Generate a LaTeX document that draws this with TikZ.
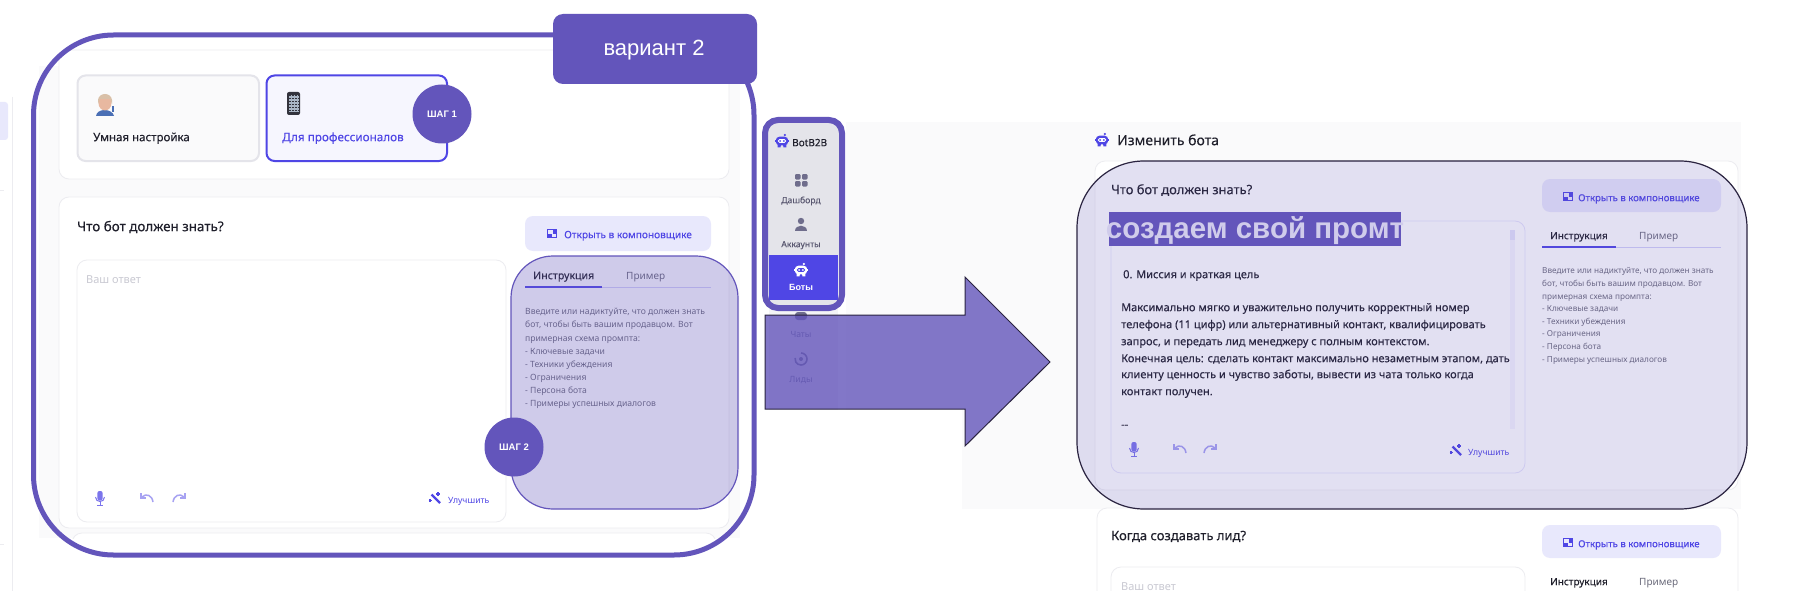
\documentclass[tikz,border=0pt]{standalone}
\usepackage{fontspec}
\setmainfont{Noto Sans}
\newfontfamily\medfont[FakeBold=0.2]{Noto Sans}
\newfontfamily\tagfont{Liberation Sans}
\definecolor{violet}{HTML}{6355BB}
\definecolor{indigo}{HTML}{4F46E5}
\definecolor{softbtn}{HTML}{E8E8FC}
\definecolor{ink}{HTML}{1F1F2B}
\definecolor{hint}{HTML}{6B6B7B}
\definecolor{ghost}{HTML}{C9C9D2}
\definecolor{hair}{HTML}{ECECF0}
\definecolor{page}{HTML}{FAFAFB}
\definecolor{navgray}{HTML}{6F6D8C}
\definecolor{overall}{HTML}{4A6FB5}
\definecolor{skin}{HTML}{E8B8A0}
\definecolor{hairtone}{HTML}{D9C0A8}
\definecolor{phonebody}{HTML}{33333D}
\definecolor{phonescreen}{HTML}{A9B5C5}
\definecolor{navbg}{HTML}{E4E4EA}
\definecolor{navlow}{HTML}{F4F4F6}
\definecolor{outline}{HTML}{2A2340}
\tikzset{
  lbl/.style={inner sep=0pt,anchor=mid west,yshift=-2.5pt,font=\medfont\fontsize{#1}{#1}\selectfont,text=ink},
  lbl/.default=11,
  thin lbl/.style={inner sep=0pt,anchor=mid west,yshift=-2.5pt,font=\fontsize{#1}{#1}\selectfont,text=hint},
  card/.style={draw=hair,fill=white,line width=.8pt,rounded corners=10pt},
  softbutton/.style={fill=softbtn,rounded corners=8pt},
  stepdot/.style={circle,fill=violet,minimum size=59pt,inner sep=0pt,text=white,font=\tagfont\fontsize{9.5}{9.5}\selectfont\bfseries},
}
% ---- small icons, centred on the given point ----
\newcommand{\boticon}[5]{\begin{scope}[shift={(#1,#2)},scale=#3]
  \fill[#4,rounded corners=3.5pt] (-6.5,-4.5) rectangle (6.5,4.5);
  \fill[#4] (-7.6,-1.5) rectangle (7.6,1.5);
  \fill[#4] (-4.5,3) -- (-1,3) -- (-1.5,6.8) -- (-4.5,6.8) -- cycle;
  \fill[#4] (1,3) -- (4.5,3) -- (4.5,6.8) -- (1.5,6.8) -- cycle;
  \fill[#4] (3,-6.3) circle (1.3);
  \fill[#5,rounded corners=1.5pt] (-4.3,-2) rectangle (4.3,2);
  \fill[#4] (-2,0) circle (1); \fill[#4] (2,0) circle (1);
\end{scope}}
\newcommand{\layouticon}[3]{\begin{scope}[shift={(#1,#2)}]
  \draw[#3,line width=1pt] (-4.5,-4) rectangle (4.5,4);
  \fill[#3] (.5,-4) rectangle (4.5,1);
  \fill[#3] (-4.5,1) rectangle (-.5,4);
\end{scope}}
\newcommand{\micicon}[3]{\begin{scope}[shift={(#1,#2)}]
  \fill[#3,rounded corners=2pt] (-2.6,-7) rectangle (2.6,2.5);
  \draw[#3,line width=1pt] (-4.5,-1) .. controls (-4.5,5) and (4.5,5) .. (4.5,-1);
  \draw[#3,line width=1pt] (0,4) -- (0,7) (-3,7) -- (3,7);
\end{scope}}
\newcommand{\undoicon}[4]{\begin{scope}[shift={(#1,#2)},xscale=#3]
  \draw[#4,line width=1.5pt] (-5,-1) .. controls (-1,-5) and (5,-3) .. (6,4);
  \draw[#4,line width=1.5pt] (-6,-5) -- (-6,0) -- (-1,0);
\end{scope}}
\newcommand{\wandicon}[3]{\begin{scope}[shift={(#1,#2)}]
  \draw[#3,line width=2.4pt] (-3.5,-3.5) -- (5,5);
  \draw[#3,line width=1.4pt] (3,-6) -- (3,-2) (1,-4) -- (5,-4) (-5,1) -- (-5,4) (-6.5,2.5) -- (-3.5,2.5);
\end{scope}}
\begin{document}
\begin{tikzpicture}[x=1pt,y=-1pt]
\useasboundingbox (0,0) rectangle (1793,591);
\fill[white] (0,0) rectangle (1793,591);
% ---- page backgrounds ----
\fill[page] (39,66) rectangle (740,538);
\fill[page] (846,122) rectangle (1741,410);
\fill[page] (962,122) rectangle (1741,509);
% ---- cut-off sidebar at the far left ----
\draw[hair,line width=.8pt] (12.5,97) -- (12.5,591);
\begin{scope}
\clip (0,0) rectangle (1793,591);
\fill[softbtn,rounded corners=3pt] (-6,102) rectangle (8,140);
\end{scope}
\draw[hair,line width=.8pt] (0,190) -- (4,190) (0,544) -- (4,544);
% ---- left screen ----
\draw[card] (59,50) rectangle (729,179);
\draw[card] (59,197) rectangle (729,528);
\begin{scope}
\clip (39,520) rectangle (740,538);
\draw[card] (72,533) rectangle (716,580);
\end{scope}
\draw[fill=page,draw=navbg,line width=2pt,rounded corners=8pt] (77.5,75.5) rectangle (259,161);
\draw[fill=indigo!5,draw=indigo,line width=2pt,rounded corners=8pt] (266.5,75.5) rectangle (447,161);
% mechanic emoji
\fill[overall] (96,116) .. controls (97,108) and (112,108) .. (114,116) -- cycle;
\fill[skin] (105,103) ellipse (6.5 and 7.5);
\fill[hairtone] (98,100) .. controls (99,92) and (111,92) .. (112,100) -- (112,104) -- (110,99) -- (100,99) -- (98,104) -- cycle;
\fill[overall] (112,106) rectangle (114,112);
% phone emoji
\fill[phonebody,rounded corners=2pt] (287,92) rectangle (300,115);
\fill[phonescreen] (288.5,95) rectangle (298.5,112);
\foreach \gy in {96,99,...,111}{\draw[phonebody,line width=1pt,dash pattern=on 1.5pt off 1.5pt] (289,\gy) -- (298.5,\gy);}
\node[lbl=11.5] (smartlabel) at (93,136) {Умная настройка};
\node[lbl=11.7,text=indigo] (prolabel) at (282,136) {Для профессионалов};
\node[lbl=13.4] (lefttitle) at (77,226) {Что бот должен знать?};
\fill[softbutton] (525,216) rectangle (711,251);
\layouticon{552}{233}{indigo}
\node[lbl=10.1,text=indigo] (leftopen) at (564,233) {Открыть в компоновщике};
\draw[card,draw=hair] (77,260) rectangle (506,522);
\node[thin lbl=11,text=ghost] (leftanswer) at (86,278) {Ваш ответ};
\micicon{100}{498}{indigo!75}
\undoicon{147}{498}{1}{indigo!50}
\undoicon{179}{498}{-1}{indigo!50}
\wandicon{435}{498}{indigo}
\node[thin lbl=8.6,text=indigo] (leftimprove) at (448,498) {Улучшить};
\node[lbl=10.6] (lefttab) at (533,274) {Инструкция};
\node[thin lbl=10,text=hint] (lefttabb) at (626,274) {Пример};
\draw[line width=.8pt,indigo!25] (602,287) -- (711,287);
\draw[line width=2pt,indigo] (525,287) -- (602,287);
\foreach \nm/\ty/\tx in {la/309/{Введите или надиктуйте, что должен знать},lb/322/{бот, чтобы быть вашим продавцом. Вот},lc/336/{примерная схема промпта:},ld/349/{- Ключевые задачи},le/362/{- Техники убеждения},lf/375/{- Ограничения},lg/388/{- Персона бота},lh/401/{- Примеры успешных диалогов}}
  {\node[thin lbl=8.6] (\nm) at (525,\ty) {\tx};}
% translucent highlight over the tabs
\fill[violet,opacity=.3,rounded corners=42pt] (511,256) rectangle (738,509);
\draw[violet,line width=1.2pt,rounded corners=42pt] (511,256) rectangle (738,509);
% outer frame, tag and step marks
\draw[violet,line width=5pt,rounded corners=80pt] (33.5,35) rectangle (754,555);
\node[fill=violet,rounded corners=10pt,minimum width=204pt,minimum height=70pt,inner sep=0pt] (varianttag) at (655,49) {};
\node[inner sep=0pt,text=white,font=\tagfont\fontsize{22}{22}\selectfont] (varianttext) at (654,50) {вариант 2};
\node[stepdot] (stepone) at (442,114) {ШАГ 1};
\node[stepdot] (steptwo) at (514,447) {ШАГ 2};
% ---- navigation column ----
\fill[navlow] (769,300) rectangle (838,410);
\fill[navbg,rounded corners=8pt] (766,121) rectangle (841,307);
\fill[indigo] (769,255) rectangle (838,300);
\boticon{782}{141}{.95}{indigo}{white}
\node[lbl=10] (navlogo) at (792,141) {BotB2B};
\foreach \sx/\sy in {795/174,802/174,795/181,802/181}{\fill[navgray,rounded corners=1.2pt] (\sx,\sy) rectangle ++(5.5,5.5);}
\node[lbl=8.6,anchor=mid,text=navgray!80!black] (navdash) at (801,198) {Дашборд};
\fill[navgray] (801,221) circle (3.2);
\fill[navgray] (795,230.5) .. controls (795,224) and (807,224) .. (807,230.5) -- cycle;
\node[lbl=8.6,anchor=mid,text=navgray!80!black] (navacc) at (801,242) {Аккаунты};
\boticon{801}{270}{.95}{white}{indigo}
\node[inner sep=0pt,text=white,font=\tagfont\fontsize{9}{9}\selectfont\bfseries] (navbots) at (801,287) {Боты};
\fill[navgray,rounded corners=3pt] (795,312) rectangle (807,320);
\node[thin lbl=8.6,anchor=mid,text=navgray] (navchats) at (801,332) {Чаты};
\draw[navgray,line width=1.6pt] (801,353) arc[start angle=-90,end angle=190,radius=6];
\fill[navgray] (801,359) circle (2);
\node[thin lbl=8.6,anchor=mid,text=navgray] (navleads) at (801,377) {Лиды};
\draw[violet,line width=6pt,rounded corners=13pt] (765,120) rectangle (842,308);
% ---- right screen ----
\boticon{1102}{140}{.95}{indigo}{white}
\node[lbl=14] (righthead) at (1117,140) {Изменить бота};
\draw[card] (1095,161) rectangle (1738,490);
\draw[card,draw=hair] (1097,508) rectangle (1738,620);
\node[lbl=12.9] (righttitle) at (1111,189) {Что бот должен знать?};
\fill[softbutton] (1542,179) rectangle (1721,212);
\layouticon{1568}{196}{indigo}
\node[lbl=9.6,text=indigo] (rightopen) at (1578,196) {Открыть в компоновщике};
\draw[card,draw=indigo!15] (1111,221) rectangle (1525,473);
\fill[indigo!6] (1510,230) rectangle (1515,429);
\fill[indigo!15] (1510,230) rectangle (1515,240);
\node[lbl=11] (mission) at (1123,273) {0. Миссия и краткая цель};
\foreach \nm/\ty/\tx in {ra/306/{Максимально мягко и уважительно получить корректный номер},rb/323/{телефона (11 цифр) или альтернативный контакт, квалифицировать},rc/340/{запрос, и передать лид менеджеру с полным контекстом.},rd/357/{Конечная цель: сделать контакт максимально незаметным этапом, дать},re/373/{клиенту ценность и чувство заботы, вывести из чата только когда},rf/390/{контакт получен.},rg/423/{-{}-}}
  {\node[lbl=11] (\nm) at (1121,\ty) {\tx};}
\micicon{1134}{449}{indigo!75}
\undoicon{1180}{449}{1}{indigo!50}
\undoicon{1210}{449}{-1}{indigo!50}
\wandicon{1456}{450}{indigo}
\node[thin lbl=8.6,text=indigo] (rightimprove) at (1468,450) {Улучшить};
\node[lbl=10] (righttab) at (1550,234) {Инструкция};
\node[thin lbl=10,text=hint] (righttabb) at (1639,234) {Пример};
\draw[line width=.8pt,indigo!25] (1616,247) -- (1721,247);
\draw[line width=2pt,indigo] (1542,247) -- (1616,247);
\foreach \nm/\ty/\tx in {sa/268/{Введите или надиктуйте, что должен знать},sb/281/{бот, чтобы быть вашим продавцом. Вот},sc/294/{примерная схема промпта:},sd/306/{- Ключевые задачи},se/319/{- Техники убеждения},sf/331/{- Ограничения},sg/344/{- Персона бота},sh/357/{- Примеры успешных диалогов}}
  {\node[thin lbl=8.2] (\nm) at (1542,\ty) {\tx};}
\node[lbl=13] (leadtitle) at (1111,535) {Когда создавать лид?};
\fill[softbutton] (1542,525) rectangle (1721,558);
\layouticon{1568}{542}{indigo}
\node[lbl=9.6,text=indigo] (leadopen) at (1578,542) {Открыть в компоновщике};
\draw[card,draw=hair] (1111,567) rectangle (1525,620);
\node[thin lbl=11,text=ghost] (leadanswer) at (1121,585) {Ваш ответ};
\node[lbl=10] (leadtab) at (1550,580) {Инструкция};
\node[thin lbl=10,text=hint] (leadtabb) at (1639,580) {Пример};
% translucent highlight over the form
\fill[violet,opacity=.18,rounded corners=67pt] (1077,161) rectangle (1747,509);
\draw[outline,line width=1.2pt,rounded corners=67pt] (1077,161) rectangle (1747,509);
% banner
\fill[violet] (1109,212) rectangle (1401,246);
\node[inner sep=0pt,anchor=center,text=violet!30,font=\tagfont\fontsize{29.5}{29.5}\selectfont\bfseries] (banner) at (1255,231) {создаем свой промт};
% ---- big arrow ----
\fill[violet,opacity=.8] (765,315) -- (965,315) -- (965,277) -- (1050,362) -- (965,446) -- (965,409) -- (765,409) -- cycle;
\draw[outline,line width=1pt,line join=miter] (765,315) -- (965,315) -- (965,277) -- (1050,362) -- (965,446) -- (965,409) -- (765,409) -- cycle;
\end{tikzpicture}
\end{document}
